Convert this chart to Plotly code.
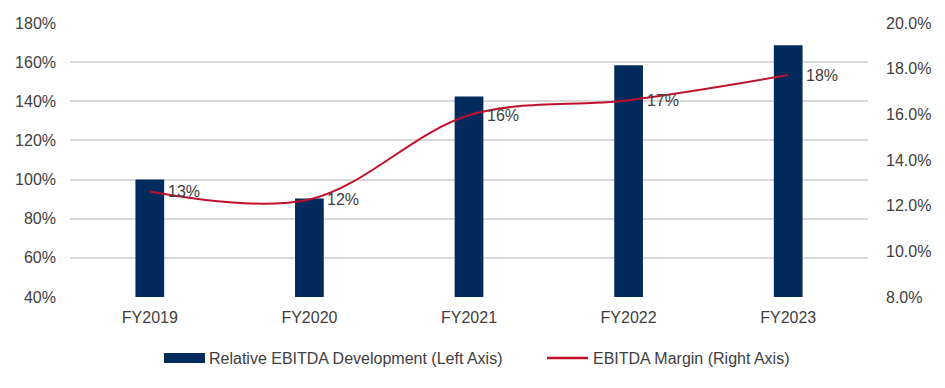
import plotly.graph_objects as go

categories = ["FY2019", "FY2020", "FY2021", "FY2022", "FY2023"]
relative_ebitda = [1.00, 0.903, 1.425, 1.584, 1.686]
ebitda_margin = [0.1262, 0.1227, 0.1596, 0.1662, 0.1772]
series_names = ["Relative EBITDA Development (Left Axis)", "EBITDA Margin (Right Axis)"]
left_ticks = [0.4, 0.6, 0.8, 1.0, 1.2, 1.4, 1.6, 1.8]
right_ticks = [0.08, 0.10, 0.12, 0.14, 0.16, 0.18, 0.20]

NAVY = "#002B5C"
RED = "#C0102E"
TXT = "#404040"
FONT = "Liberation Sans, Arial, sans-serif"

W, H = 945, 388
L, R, T, B = 70, 77, 23, 91
PW, PH = W - L - R, H - T - B


def px_x(px):
    return (px - L) / PW


def px_y(py):
    return (H - B - py) / PH


fig = go.Figure()
fig.add_trace(go.Bar(
    x=categories, y=relative_ebitda, name=series_names[0],
    marker=dict(color=NAVY, line=dict(width=0)), yaxis="y", showlegend=False,
))
fig.add_trace(go.Scatter(
    x=categories, y=ebitda_margin, name=series_names[1],
    mode="lines", line=dict(color=RED, width=2, shape="spline", smoothing=1.0),
    yaxis="y2", showlegend=False,
))

for c, v in zip(categories, ebitda_margin):
    fig.add_annotation(
        x=c, y=v, xref="x", yref="y2", text=f"{round(v*100):.0f}%",
        showarrow=False, xanchor="left", yanchor="middle", xshift=16,
        font=dict(family=FONT, size=16, color=TXT),
    )

# custom legend (Excel-style wide symbols)
fig.add_shape(type="rect", xref="paper", yref="paper",
              x0=px_x(164), x1=px_x(205), y0=px_y(363), y1=px_y(353),
              fillcolor=NAVY, line=dict(width=0))
fig.add_shape(type="line", xref="paper", yref="paper",
              x0=px_x(547), x1=px_x(588), y0=px_y(358), y1=px_y(358),
              line=dict(color=RED, width=2.5))
fig.add_annotation(xref="paper", yref="paper", x=px_x(207), y=px_y(358),
                   text=series_names[0], showarrow=False, xanchor="left", yanchor="middle",
                   font=dict(family=FONT, size=16, color=TXT))
fig.add_annotation(xref="paper", yref="paper", x=px_x(591), y=px_y(358),
                   text=series_names[1], showarrow=False, xanchor="left", yanchor="middle",
                   font=dict(family=FONT, size=16, color=TXT))

fig.update_layout(
    width=W, height=H,
    margin=dict(l=L, r=R, t=T, b=B, autoexpand=False),
    paper_bgcolor="white", plot_bgcolor="white",
    font=dict(family=FONT, size=16, color=TXT),
    bargap=0.82,
    showlegend=False,
    xaxis=dict(showgrid=False, showline=False, ticks="", automargin=False,
               ticklabelstandoff=9, tickfont=dict(size=16, color=TXT)),
    yaxis=dict(range=[0.4, 1.8], tickvals=left_ticks, tickformat=".0%",
               showgrid=True, gridcolor="#D9D9D9", gridwidth=1.5, zeroline=False,
               showline=False, ticks="", automargin=False, ticklabelstandoff=13,
               tickfont=dict(size=16, color=TXT)),
    yaxis2=dict(range=[0.08, 0.20], tickvals=right_ticks, tickformat=".1%",
                overlaying="y", side="right", showgrid=False, zeroline=False,
                showline=False, ticks="", automargin=False, ticklabelstandoff=17,
                tickfont=dict(size=16, color=TXT)),
)

fig.write_html("out.html", config={"displayModeBar": False},
               post_script="document.body.style.margin='0';document.body.style.overflow='hidden';")
